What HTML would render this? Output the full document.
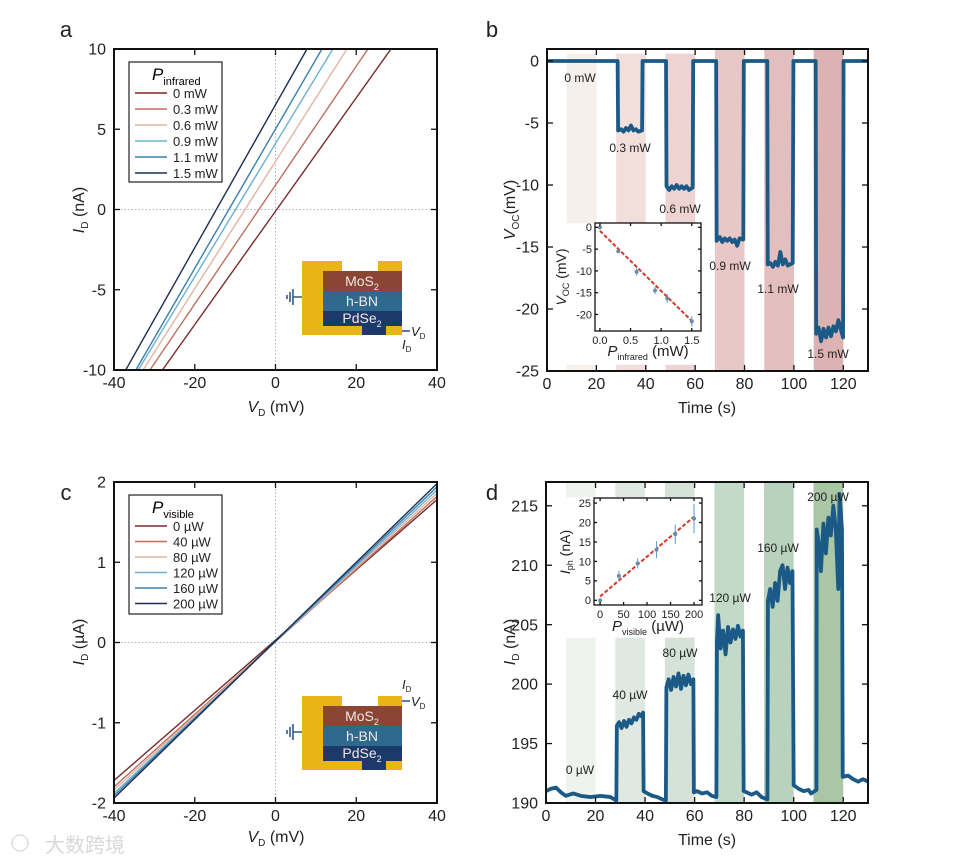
<!DOCTYPE html>
<html><head><meta charset="utf-8"><style>
body{margin:0;background:#fff}
svg{display:block;font-family:"Liberation Sans","Noto Sans CJK SC",sans-serif}
</style></head><body>
<svg id="fig" width="962" height="859" viewBox="0 0 962 859"></svg>
<script>
// ---- Panel a data ----
const aLabels=["0 mW","0.3 mW","0.6 mW","0.9 mW","1.1 mW","1.5 mW"];
const aXatBottom=[-28.0,-31.1,-32.8,-34.0,-34.6,-37.1];
const aXatTop=[28.6,22.9,17.7,14.2,11.5,7.8];
// ---- Panel c data ----
const cLabels=["0 µW","40 µW","80 µW","120 µW","160 µW","200 µW"];
const cYatLeft=[-1.72,-1.80,-1.84,-1.88,-1.91,-1.94];
const cYatRight=[1.78,1.82,1.86,1.90,1.94,1.98];
const seriesColors=["#7b2a2a","#bf6f5e","#e3b5a2","#6eb0d3","#3b7fae","#1d2f52"];
// ---- Panel b data ----
const bBarStart=[8,28,48,68,88,108];
const bBarEnd=[20,40,60,80,100,120];
const bBarLabels=["0 mW","0.3 mW","0.6 mW","0.9 mW","1.1 mW","1.5 mW"];
const bT=[0,28.6,28.8,30,31,32,33,34,35,36,37,38.5,38.7,48.2,48.4,49.5,50.5,51.5,52.5,53.5,54.5,55.5,56.5,57.5,59,59.2,68.5,68.7,70,71,72,73,74,75,76,77,78,79.5,79.7,89.2,89.4,90.5,91.5,92.5,93.5,94.5,95.5,96.5,97.5,99.5,99.8,108.8,109,110,111,112,113,114,115,116,117,118,119.9,120.1,130];
const bV=[0,0,-5.6,-5.5,-5.7,-5.4,-5.6,-5.2,-5.6,-5.5,-5.7,-5.6,0,0,-10.1,-10.4,-10.1,-10.3,-10.0,-10.3,-10.1,-10.3,-10.1,-10.4,-10.2,0,0,-14.5,-14.2,-14.6,-14.3,-14.5,-14.3,-14.6,-14.4,-14.9,-14.3,-14.4,0,0,-16.4,-16.3,-16.6,-16.2,-16.5,-15.4,-16.4,-16.0,-16.5,-16.3,0,0,-22.0,-21.5,-22.6,-21.6,-22.3,-21.5,-22.2,-21.4,-21.8,-20.9,-22.3,0,0];
const bInsetP=[0,0.3,0.6,0.9,1.1,1.5];
const bInsetV=[0,-5.5,-10.2,-14.5,-16.3,-21.6];
const bInsetErr=[0.5,0.4,0.9,0.8,1.0,1.2];
const bFitX=[0,1.5];
const bFitY=[-0.8,-21.5];
// ---- Panel d data ----
const dBarLabels=["0 µW","40 µW","80 µW","120 µW","160 µW","200 µW"];
const dT=[0,2,4,6,8,11,14,18,22,26,28.4,28.6,29.5,30.5,31.5,32.5,33.5,34.5,35.5,36.5,37.5,38.5,39.2,39.4,41,43,45,47,48.4,48.6,49.5,50.5,51.5,52.5,53.5,54.5,55.5,56.5,57.5,58.5,59.5,59.7,61,63,65,67,68.8,69,69.5,70.5,71.5,72.5,73.5,74.5,75.5,76.5,77.5,78.5,79.5,79.8,81,83,85,87,89.4,89.6,90.5,91.5,92.5,93.5,94.5,95.5,96.5,97.5,98.5,99.5,100,102,104,106,107,109.2,109.3,110,111,112,113,114,115,116,117,118,118.5,119.5,119.8,122,124,126,128,130];
const dV=[191.0,191.2,191.3,190.9,190.6,190.8,190.6,190.5,190.6,190.5,190.2,196.5,196.8,196.3,196.9,196.4,197.0,196.7,197.2,197.0,197.5,197.3,197.6,191.0,190.8,190.6,190.5,190.3,190.2,199.7,200.4,199.5,200.6,199.8,200.9,199.6,200.7,199.9,200.8,200.0,200.4,190.9,191.0,190.8,190.9,190.6,190.5,203.5,205.8,203.0,204.5,202.5,204.8,203.5,204.6,203.8,204.9,204.0,204.5,191.0,190.9,190.7,190.9,190.5,190.3,207.0,208.0,206.5,208.5,207.0,209.5,210.0,208.0,209.8,208.5,209.5,191.5,191.2,191.0,191.1,190.8,191.1,213.0,212.0,209.5,213.5,211.0,214.0,212.5,215.0,213.0,208.0,216.0,213.0,192.2,192.3,192.0,191.8,192.0,191.8];
const dInsetP=[0,40,80,120,160,200];
const dInsetI=[0,6.3,9.5,13,17,21];
const dInsetErr=[0.5,1.2,1.3,2.2,2.5,3.8];
const dFitX=[0,200];
const dFitY=[1,21.5];
// tick labels
const aXTicks=[-40,-20,0,20,40], aYTicks=[-10,-5,0,5,10];
const cYTicks=[-2,-1,0,1,2];
const bXTicks=[0,20,40,60,80,100,120], bYTicks=[-25,-20,-15,-10,-5,0];
const dYTicks=[190,195,200,205,210,215];
const bInXTicks=["0.0","0.5","1.0","1.5"], bInYTicks=[-20,-15,-10,-5,0];
const dInXTicks=[0,50,100,150,200], dInYTicks=[0,5,10,15,20,25];
const bBarColors=["#f7efea","#f2dfdb","#edd3d1","#e7c8c7","#e3bebe","#dcb3b2"];
const dBarColors=["#eef3ee","#dfe9e2","#d5e2d7","#c3dac9","#b8d2bd","#a9c6a5"];

const NS="http://www.w3.org/2000/svg";
const svg=document.getElementById('fig');
function mk(tag,attrs,name,parent){
  const el=document.createElementNS(NS,tag);
  for(const k in attrs) el.setAttribute(k,attrs[k]);
  
  
  (parent||svg).appendChild(el);
  return el;
}
function txt(x,y,s,name,o){
  o=o||{};
  const t=mk('text',{x:x,y:y,'font-size':o.fs||16,'text-anchor':o.anchor||'middle',fill:o.fill||'#222','font-style':o.it?'italic':'normal','font-weight':o.bold?'bold':'normal'},name);
  if(o.rot) t.setAttribute('transform','rotate(-90 '+x+' '+y+')');
  t.innerHTML=s;
  return t;
}
function axes(P){
  P.sx=v=>P.x0+(v-P.xr[0])/(P.xr[1]-P.xr[0])*(P.x1-P.x0);
  P.sy=v=>P.y1-(v-P.yr[0])/(P.yr[1]-P.yr[0])*(P.y1-P.y0);
  return P;
}
function frame(P,xt,yt,name,fs,tl,xlab,ylab){
  const g=mk('g',{},name+'-axes');
  mk('rect',{x:P.x0,y:P.y0,width:P.x1-P.x0,height:P.y1-P.y0,fill:'none',stroke:'#111','stroke-width':tl>3?2:1.3},name+'-frame',g);
  xt.forEach((v,i)=>{const x=P.sx(+v);
    mk('line',{x1:x,x2:x,y1:P.y1,y2:P.y1-tl,stroke:'#111','stroke-width':1.3},name+'-xtick',g);
    mk('line',{x1:x,x2:x,y1:P.y0,y2:P.y0+tl,stroke:'#111','stroke-width':1.3},name+'-xtick-top',g);
    txt(x,P.y1+fs+2,xlab?xlab[i]:v,name+'-xtick-label',{fs:fs});});
  yt.forEach((v,i)=>{const y=P.sy(+v);
    mk('line',{x1:P.x0,x2:P.x0+tl,y1:y,y2:y,stroke:'#111','stroke-width':1.3},name+'-ytick',g);
    mk('line',{x1:P.x1,x2:P.x1-tl,y1:y,y2:y,stroke:'#111','stroke-width':1.3},name+'-ytick-right',g);
    txt(P.x0-(tl>3?8:3),y+fs*0.35,ylab?ylab[i]:v,name+'-ytick-label',{fs:fs,anchor:'end'});});
}

// ===== Panel a =====
const A=axes({x0:114,x1:437,y0:49,y1:370,xr:[-40,40],yr:[-10,10]});
mk('line',{x1:A.sx(0),x2:A.sx(0),y1:A.y0,y2:A.y1,stroke:'#8aa0c0','stroke-width':0.8,'stroke-dasharray':'1.5,2'},'a-zero-vline');
mk('line',{x1:A.x0,x2:A.x1,y1:A.sy(0),y2:A.sy(0),stroke:'#8aa0c0','stroke-width':0.8,'stroke-dasharray':'1.5,2'},'a-zero-hline');
aLabels.forEach((l,i)=>{mk('line',{x1:A.sx(aXatBottom[i]),y1:A.sy(-10),x2:A.sx(aXatTop[i]),y2:A.sy(10),stroke:seriesColors[i],'stroke-width':1.4},'a-iv-line');});
frame(A,aXTicks,aYTicks,'a',16,6);
txt(66,37,'a','panel-a-letter',{fs:22});
txt(84,210,'<tspan font-style="italic">I</tspan><tspan font-size="10" dy="4">D</tspan><tspan dy="-4"> (nA)</tspan>','a-y-title',{rot:1});
txt(276,412,'<tspan font-style="italic">V</tspan><tspan font-size="10" dy="4">D</tspan><tspan dy="-4"> (mV)</tspan>','a-x-title');

function legend(x,y,h,title,labels,step,name){
  const g=mk('g',{},name);
  mk('rect',{x:x,y:y,width:93,height:h,fill:'#fff',stroke:'#222','stroke-width':1.2},name+'-box',g);
  const t=mk('text',{x:x+23,y:y+18,'font-size':17},name+'-title',g);
  t.innerHTML='<tspan font-style="italic">P</tspan><tspan font-size="11" dy="5">'+title+'</tspan>';
  labels.forEach((l,i)=>{const yy=y+31+i*step;
    mk('line',{x1:x+6,x2:x+38,y1:yy,y2:yy,stroke:seriesColors[i],'stroke-width':1.6},name+'-swatch',g);
    const tt=mk('text',{x:x+44,y:yy+5,'font-size':13,fill:'#222'},name+'-entry',g);tt.textContent=l;});
}
legend(129,62,120,'infrared',aLabels,16,'a-legend');

function device(yT,vdTop,name){
  const g=mk('g',{},name);
  mk('polygon',{points:`302,${yT} 342,${yT} 342,${yT+10} 378,${yT+10} 378,${yT} 402,${yT} 402,${yT+74} 302,${yT+74}`,fill:'#e9b417'},name+'-electrodes',g);
  mk('rect',{x:323,y:yT+10,width:79,height:20,fill:'#8a4535'},name+'-mos2',g);
  mk('rect',{x:323,y:yT+30,width:79,height:20,fill:'#2d6a8d'},name+'-hbn',g);
  mk('rect',{x:323,y:yT+50,width:79,height:15,fill:'#1b3a6a'},name+'-pdse2',g);
  mk('rect',{x:362,y:yT+65,width:24,height:9,fill:'#1b3a6a'},name+'-pdse2-contact',g);
  const lab=(y,s,n)=>{const t=mk('text',{x:362,y:y,'font-size':14,fill:'#f3e6e6','text-anchor':'middle'},n,g);t.innerHTML=s;};
  lab(yT+25,'MoS<tspan font-size="9" dy="4">2</tspan>',name+'-mos2-label');
  lab(yT+45,'h-BN',name+'-hbn-label');
  lab(yT+62,'PdSe<tspan font-size="9" dy="4">2</tspan>',name+'-pdse2-label');
  const gy=yT+36;
  mk('path',{d:`M302 ${gy}H293 M293 ${gy-8}V${gy+8} M290 ${gy-5}V${gy+5} M287 ${gy-2}V${gy+2}`,stroke:'#2d5a8e','stroke-width':1.6,fill:'none'},name+'-ground',g);
  const vy=vdTop?yT+5:yT+70;
  mk('line',{x1:402,x2:410,y1:vy,y2:vy,stroke:'#2d5a8e','stroke-width':1.6},name+'-vd-wire',g);
  const v=mk('text',{x:411,y:vy+5,'font-size':13,fill:'#222'},name+'-vd-label',g);
  v.innerHTML='<tspan font-style="italic">V</tspan><tspan font-size="8" dy="3">D</tspan>';
  const iy=vdTop?vy-12:vy+18;
  const i=mk('text',{x:402,y:iy,'font-size':13,fill:'#222'},name+'-id-label',g);
  i.innerHTML='<tspan font-style="italic">I</tspan><tspan font-size="8" dy="3">D</tspan>';
}
device(261,false,'a-device-schematic');

// ===== Panel c =====
const C=axes({x0:114,x1:437,y0:482,y1:803,xr:[-40,40],yr:[-2,2]});
mk('line',{x1:C.sx(0),x2:C.sx(0),y1:C.y0,y2:C.y1,stroke:'#8aa0c0','stroke-width':0.8,'stroke-dasharray':'1.5,2'},'c-zero-vline');
mk('line',{x1:C.x0,x2:C.x1,y1:C.sy(0),y2:C.sy(0),stroke:'#8aa0c0','stroke-width':0.8,'stroke-dasharray':'1.5,2'},'c-zero-hline');
cLabels.forEach((l,i)=>{mk('line',{x1:C.sx(-40),y1:C.sy(cYatLeft[i]),x2:C.sx(40),y2:C.sy(cYatRight[i]),stroke:seriesColors[i],'stroke-width':1.4},'c-iv-line');});
frame(C,aXTicks,cYTicks,'c',16,6);
txt(66,500,'c','panel-c-letter',{fs:22});
txt(84,642,'<tspan font-style="italic">I</tspan><tspan font-size="10" dy="4">D</tspan><tspan dy="-4"> (µA)</tspan>','c-y-title',{rot:1});
txt(276,842,'<tspan font-style="italic">V</tspan><tspan font-size="10" dy="4">D</tspan><tspan dy="-4"> (mV)</tspan>','c-x-title');
legend(129,495,119,'visible',cLabels,15.5,'c-legend');
device(696,true,'c-device-schematic');

// ===== Panel b =====
const B=axes({x0:547,x1:868,y0:49,y1:371,xr:[0,130],yr:[-25,0.97]});
bBarStart.forEach((s,i)=>{
  const x=B.sx(s),w=B.sx(bBarEnd[i])-x;
  if(i<3){
    mk('rect',{x:x,y:B.sy(0.6),width:w,height:B.sy(-13.1)-B.sy(0.6),fill:bBarColors[i]},'b-shade-bar');
    mk('rect',{x:x,y:B.sy(-24.5),width:w,height:B.sy(-25)-B.sy(-24.5),fill:bBarColors[i]},'b-shade-bar-bottom');
  } else mk('rect',{x:x,y:B.y0,width:w,height:B.y1-B.y0,fill:bBarColors[i]},'b-shade-bar');
});
mk('polyline',{points:bT.map((t,i)=>B.sx(t)+','+B.sy(bV[i])).join(' '),fill:'none',stroke:'#1b5a86','stroke-width':3.8,'stroke-linejoin':'round'},'b-voc-trace');
const bLabPos=[[580,82],[630,152],[680,213],[730,270],[778,293],[828,358]];
bBarLabels.forEach((l,i)=>txt(bLabPos[i][0],bLabPos[i][1],l,'b-power-label',{fs:12}));
frame(B,bXTicks,bYTicks,'b',16,6);
txt(492,37,'b','panel-b-letter',{fs:22});
txt(515,210,'<tspan font-style="italic">V</tspan><tspan font-size="10" dy="4">OC</tspan><tspan dy="-4">(mV)</tspan>','b-y-title',{rot:1});
txt(707,413,'Time (s)','b-x-title');
// inset b
const BI=axes({x0:595,x1:701,y0:223,y1:331,xr:[-0.08,1.65],yr:[-23.8,1.0]});
mk('rect',{x:BI.x0,y:BI.y0,width:BI.x1-BI.x0,height:BI.y1-BI.y0,fill:'#fff'},'b-inset-bg');
mk('line',{x1:BI.sx(bFitX[0]),y1:BI.sy(bFitY[0]),x2:BI.sx(bFitX[1]),y2:BI.sy(bFitY[1]),stroke:'#d23a2a','stroke-width':2,'stroke-dasharray':'4,2'},'b-inset-fit');
bInsetP.forEach((p,i)=>{const x=BI.sx(p);
  mk('line',{x1:x,x2:x,y1:BI.sy(bInsetV[i]+bInsetErr[i]),y2:BI.sy(bInsetV[i]-bInsetErr[i]),stroke:'#5a9ad0','stroke-width':1},'b-inset-errorbar');
  mk('circle',{cx:x,cy:BI.sy(bInsetV[i]),r:2,fill:'#6a8aa8'},'b-inset-point');});
frame(BI,bInXTicks,bInYTicks,'b-inset',11,3);
txt(566,277,'<tspan font-style="italic">V</tspan><tspan font-size="9" dy="3">OC</tspan><tspan dy="-3"> (mV)</tspan>','b-inset-y-title',{rot:1,fs:14});
txt(648,356,'<tspan font-style="italic">P</tspan><tspan font-size="9" dy="4">infrared</tspan><tspan dy="-4"> (mW)</tspan>','b-inset-x-title',{fs:15});

// ===== Panel d =====
const D=axes({x0:546,x1:868,y0:482,y1:803,xr:[0,130],yr:[190,217]});
bBarStart.forEach((s,i)=>{
  const x=D.sx(s),w=D.sx(bBarEnd[i])-x;
  if(i<3){
    mk('rect',{x:x,y:D.y0,width:w,height:D.sy(215.7)-D.y0,fill:dBarColors[i]},'d-shade-bar-top');
    mk('rect',{x:x,y:D.sy(203.9),width:w,height:D.y1-D.sy(203.9),fill:dBarColors[i]},'d-shade-bar');
  } else mk('rect',{x:x,y:D.y0,width:w,height:D.y1-D.y0,fill:dBarColors[i]},'d-shade-bar');
});
mk('polyline',{points:dT.map((t,i)=>D.sx(t)+','+D.sy(dV[i])).join(' '),fill:'none',stroke:'#1b5a86','stroke-width':3.8,'stroke-linejoin':'round'},'d-id-trace');
const dLabPos=[[580,774],[630,699],[680,657],[730,602],[778,552],[828,501]];
dBarLabels.forEach((l,i)=>txt(dLabPos[i][0],dLabPos[i][1],l,'d-power-label',{fs:12}));
frame(D,bXTicks,dYTicks,'d',16,6);
txt(492,500,'d','panel-d-letter',{fs:22});
txt(515,642,'<tspan font-style="italic">I</tspan><tspan font-size="10" dy="4">D</tspan><tspan dy="-4"> (nA)</tspan>','d-y-title',{rot:1});
txt(707,845,'Time (s)','d-x-title');
// inset d
const DI=axes({x0:594,x1:702,y0:498,y1:605,xr:[-13,217],yr:[-1.2,26.3]});
mk('rect',{x:DI.x0,y:DI.y0,width:DI.x1-DI.x0,height:DI.y1-DI.y0,fill:'#fff'},'d-inset-bg');
mk('line',{x1:DI.sx(dFitX[0]),y1:DI.sy(dFitY[0]),x2:DI.sx(dFitX[1]),y2:DI.sy(dFitY[1]),stroke:'#d23a2a','stroke-width':2,'stroke-dasharray':'4,2'},'d-inset-fit');
dInsetP.forEach((p,i)=>{const x=DI.sx(p);
  mk('line',{x1:x,x2:x,y1:DI.sy(dInsetI[i]+dInsetErr[i]),y2:DI.sy(dInsetI[i]-dInsetErr[i]),stroke:'#5a9ad0','stroke-width':1},'d-inset-errorbar');
  mk('circle',{cx:x,cy:DI.sy(dInsetI[i]),r:2,fill:'#6a8aa8'},'d-inset-point');});
frame(DI,dInXTicks,dInYTicks,'d-inset',11,3);
txt(570,552,'<tspan font-style="italic">I</tspan><tspan font-size="9" dy="3">ph</tspan><tspan dy="-3"> (nA)</tspan>','d-inset-y-title',{rot:1,fs:14});
txt(648,631,'<tspan font-style="italic">P</tspan><tspan font-size="9" dy="4">visible</tspan><tspan dy="-4"> (µW)</tspan>','d-inset-x-title',{fs:15});

// watermark
txt(85,852,'大数跨境','watermark',{fs:20,fill:'#d8d8d8'});
mk('circle',{cx:20,cy:843,r:8,fill:'none',stroke:'#ddd','stroke-width':1.5},'watermark-logo');
</script>
</body></html>
